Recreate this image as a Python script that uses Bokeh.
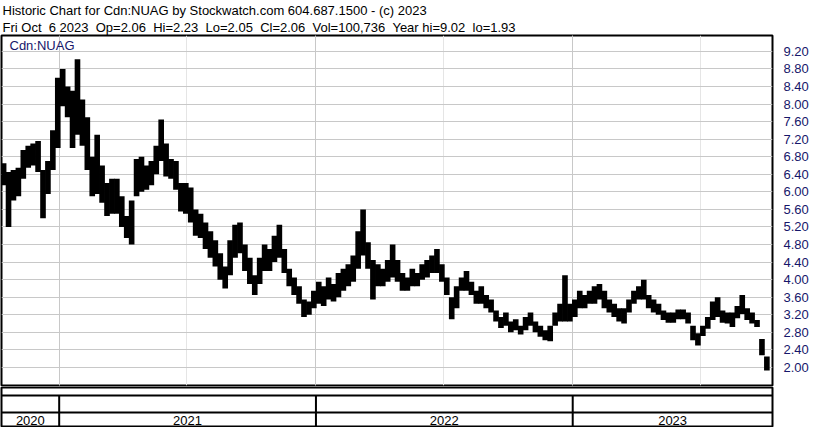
import pandas as pd
from bokeh.plotting import figure
from bokeh.models import (FixedTicker, Title, Label, Span, ColumnDataSource,
                          NumeralTickFormatter, Range1d, Grid)
from bokeh.layouts import column
from bokeh.embed import file_html
from bokeh.resources import INLINE
from bokeh.core.properties import value

# ---------------- data ----------------
TITLE_1 = "Historic Chart for Cdn:NUAG by Stockwatch.com 604.687.1500 - (c) 2023"
TITLE_2 = ("Fri Oct\u00a0\u00a06 2023\u00a0\u00a0Op=2.06\u00a0\u00a0Hi=2.23\u00a0\u00a0Lo=2.05"
           "\u00a0\u00a0Cl=2.06\u00a0\u00a0Vol=100,736\u00a0\u00a0Year hi=9.02\u00a0\u00a0lo=1.93")
SYMBOL = "Cdn:NUAG"

FIRST_WEEK = "2020-10-12"          # Monday of the first weekly bar
VIEW_START = "2020-10-11"
VIEW_END = "2023-10-12"

WEEK_HIGH = [
    6.65, 6.45, 6.50, 6.55, 6.95, 7.05, 7.10, 7.16, 6.50, 6.70,
    7.40, 8.60, 8.80, 8.40, 8.30, 9.02, 8.10, 7.70, 6.80, 7.30,
    6.60, 6.20, 6.30, 6.30, 5.90, 5.45, 5.80, 6.75, 6.80, 6.60,
    6.70, 7.05, 7.65, 7.10, 6.75, 6.70, 6.20, 6.20, 6.10, 5.60,
    5.50, 5.30, 5.10, 4.90, 4.60, 4.30, 4.90, 5.25, 5.30, 4.80,
    4.50, 4.10, 4.50, 4.80, 4.70, 5.00, 5.25, 4.70, 4.25, 4.05,
    3.85, 3.55, 3.50, 3.75, 3.95, 3.85, 4.05, 3.90, 4.15, 4.25,
    4.35, 4.55, 5.10, 5.60, 4.85, 4.45, 4.35, 4.25, 4.45, 4.80,
    4.45, 4.15, 4.05, 4.25, 4.15, 4.35, 4.45, 4.55, 4.70, 4.35,
    4.05, 3.60, 3.85, 4.05, 4.20, 3.95, 3.75, 3.85, 3.65, 3.55,
    3.30, 3.15, 3.25, 3.05, 3.10, 2.95, 3.15, 3.25, 3.05, 2.95,
    2.85, 2.95, 3.25, 3.45, 4.10, 3.45, 3.55, 3.75, 3.65, 3.75,
    3.85, 3.90, 3.75, 3.55, 3.45, 3.35, 3.35, 3.55, 3.75, 3.85,
    4.00, 3.65, 3.55, 3.45, 3.30, 3.25, 3.25, 3.32, 3.32, 3.25,
    2.95, 2.78, 2.95, 3.15, 3.50, 3.60, 3.30, 3.25, 3.25, 3.40,
    3.65, 3.35, 3.25, 3.08, 2.65, 2.25,
]
WEEK_LOW = [
    6.15, 5.20, 5.80, 5.90, 6.30, 6.55, 6.60, 6.45, 5.40, 5.95,
    6.50, 7.00, 7.95, 7.70, 7.00, 7.30, 7.05, 6.50, 5.90, 5.95,
    5.75, 5.45, 5.50, 5.50, 5.20, 4.95, 4.80, 5.90, 6.00, 6.05,
    6.15, 6.40, 6.70, 6.35, 6.30, 6.05, 5.55, 5.50, 5.30, 5.00,
    4.95, 4.70, 4.50, 4.30, 4.00, 3.80, 4.10, 4.50, 4.60, 4.20,
    3.90, 3.65, 3.90, 4.20, 4.20, 4.40, 4.50, 4.15, 3.85, 3.65,
    3.45, 3.15, 3.20, 3.35, 3.45, 3.40, 3.55, 3.50, 3.60, 3.75,
    3.85, 3.95, 4.25, 4.55, 4.25, 3.55, 3.85, 3.85, 3.95, 4.05,
    3.95, 3.75, 3.75, 3.85, 3.85, 4.00, 4.05, 4.15, 4.15, 3.95,
    3.65, 3.10, 3.35, 3.75, 3.75, 3.65, 3.45, 3.45, 3.35, 3.25,
    3.05, 2.90, 2.95, 2.80, 2.85, 2.75, 2.85, 2.95, 2.80, 2.70,
    2.62, 2.60, 2.95, 3.05, 3.05, 3.05, 3.15, 3.35, 3.35, 3.45,
    3.45, 3.55, 3.35, 3.25, 3.15, 3.05, 3.00, 3.25, 3.45, 3.55,
    3.55, 3.35, 3.25, 3.20, 3.08, 3.02, 3.02, 3.10, 3.10, 3.00,
    2.62, 2.50, 2.72, 2.88, 3.08, 3.15, 3.02, 3.00, 2.92, 3.12,
    3.22, 3.08, 3.00, 2.92, 2.28, 1.93,
]

PRICE_TICKS = [2.00, 2.40, 2.80, 3.20, 3.60, 4.00, 4.40, 4.80, 5.20, 5.60,
               6.00, 6.40, 6.80, 7.20, 7.60, 8.00, 8.40, 8.80, 9.20]
PRICE_MIN, PRICE_MAX = 1.59, 9.56
YEARS = [2020, 2021, 2022, 2023]

# ---------------- styling ----------------
FONT = "Liberation Sans"
NAVY = "#16166a"
GRID = "#c8c8c8"
W = 814
RIGHT = 42

weeks = pd.date_range(FIRST_WEEK, periods=len(WEEK_HIGH), freq="7D")
src = ColumnDataSource(dict(x=weeks + pd.Timedelta(days=2), high=WEEK_HIGH, low=WEEK_LOW))
v0, v1 = pd.Timestamp(VIEW_START), pd.Timestamp(VIEW_END)
xr = Range1d(v0, v1)
year_starts = [pd.Timestamp(f"{y}-01-01") for y in YEARS[1:]]
year_ms = [t.value / 1e6 for t in year_starts]

p = figure(width=W, height=386, x_range=xr, y_range=Range1d(PRICE_MIN, PRICE_MAX),
           x_axis_type="datetime", x_axis_location=None, y_axis_location="right",
           output_backend="svg", toolbar_location=None,
           min_border_left=1, min_border_right=RIGHT, min_border_top=0, min_border_bottom=1)
p.outline_line_color = "black"
p.outline_line_width = 2
p.ygrid.ticker = FixedTicker(ticks=PRICE_TICKS)
p.ygrid.grid_line_color = GRID
p.add_layout(Grid(dimension=0, ticker=FixedTicker(ticks=year_ms), grid_line_color=GRID))
ax = p.yaxis[0]
ax.ticker = FixedTicker(ticks=PRICE_TICKS)
ax.formatter = NumeralTickFormatter(format="0.00")
ax.axis_line_color = None
ax.major_tick_line_color = None
ax.minor_tick_line_color = None
ax.major_label_standoff = 5
ax.major_label_text_font = FONT
ax.major_label_text_font_size = "13px"
ax.major_label_text_color = NAVY

p.add_layout(Title(text=TITLE_2, align="left", text_font=FONT, text_font_size="13px",
                   text_font_style="normal", text_color="black", standoff=1, offset=1), "above")
p.add_layout(Title(text=TITLE_1, align="left", text_font=FONT, text_font_size="13px",
                   text_font_style="normal", text_color="black", standoff=0, offset=1), "above")

# weekly high-low range bars, overlapping slightly so they form one continuous band
p.vbar(x="x", width=8 * 86400000, top="high", bottom="low", source=src,
       fill_color="black", line_color=None)

p.add_layout(Label(x=8, y=PRICE_MAX, x_units="screen", y_units="data", y_offset=-2,
                   text=SYMBOL, text_baseline="top", text_font=FONT,
                   text_font_size="13px", text_color=NAVY))

# ---------------- year panel ----------------
p2 = figure(width=W, height=41, x_range=xr, y_range=Range1d(0, 39),
            x_axis_location=None, y_axis_location=None,
            output_backend="svg", toolbar_location=None,
            min_border_left=1, min_border_right=RIGHT, min_border_top=1, min_border_bottom=1)
p2.grid.visible = False
p2.outline_line_color = "black"
p2.outline_line_width = 2
p2.add_layout(Span(location=31, dimension="width", line_color="black", line_width=2))
p2.add_layout(Span(location=14, dimension="width", line_color="black", line_width=2))
p2.segment(x0=year_starts, x1=year_starts, y0=[0] * 3, y1=[31] * 3,
           line_color="black", line_width=2)

lab_x, lab_t = [], []
for y in YEARS:
    a = max(pd.Timestamp(f"{y}-01-01"), v0)
    b = min(pd.Timestamp(f"{y + 1}-01-01"), v1)
    lab_x.append(a + (b - a) / 2)
    lab_t.append(str(y))
p2.text(x=lab_x, y=[6.5] * len(lab_x), text=lab_t, text_align="center",
        text_baseline="middle", text_font=value(FONT), text_font_size="13px",
        text_color="black")

layout = column(p, p2, spacing=0)
open("out.html", "w").write(file_html(layout, INLINE))
